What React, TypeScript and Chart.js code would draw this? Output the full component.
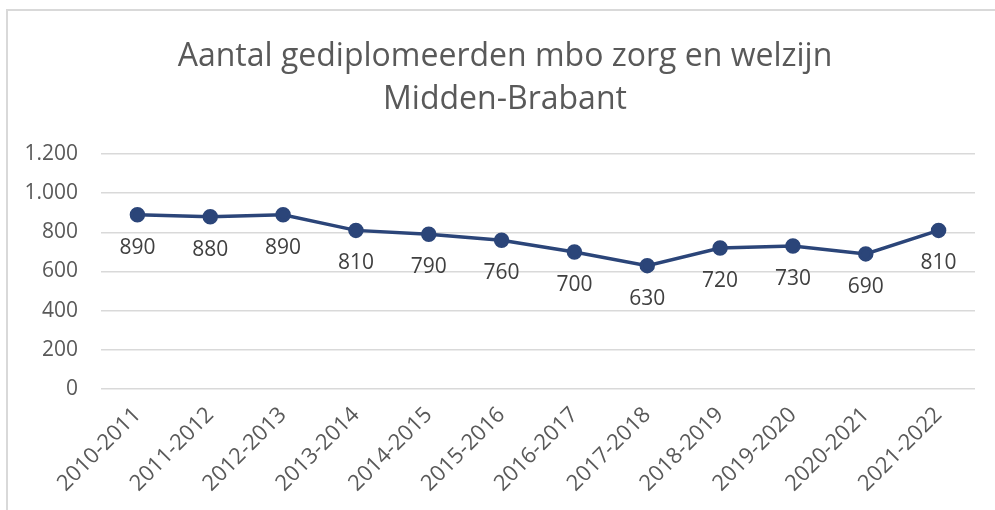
import React, { useEffect, useRef } from "react";
import { Chart, registerables } from "chart.js";

Chart.register(...registerables);

const categories = [
  "2010-2011", "2011-2012", "2012-2013", "2013-2014", "2014-2015", "2015-2016",
  "2016-2017", "2017-2018", "2018-2019", "2019-2020", "2020-2021", "2021-2022",
];
const values = [890, 880, 890, 810, 790, 760, 700, 630, 720, 730, 690, 810];
const titleLines = ["Aantal gediplomeerden mbo zorg en welzijn", "Midden-Brabant"];
const FONT = "'Open Sans', 'Noto Sans', sans-serif";

const fmt = (v: number) => v.toLocaleString("nl-NL");

const labelPlugin = {
  id: "pointLabels",
  afterDatasetsDraw(chart: any) {
    const ctx = chart.ctx;
    const meta = chart.getDatasetMeta(0);
    ctx.save();
    ctx.font = `21px ${FONT}`;
    ctx.fillStyle = "#404040";
    ctx.textAlign = "center";
    ctx.textBaseline = "middle";
    meta.data.forEach((pt: any, i: number) => {
      ctx.fillText(fmt(values[i]), pt.x, pt.y + 33);
    });
    ctx.restore();
  },
};

const titlePlugin = {
  id: "centeredTitle",
  afterDraw(chart: any) {
    const ctx = chart.ctx;
    ctx.save();
    ctx.font = `32px ${FONT}`;
    ctx.fillStyle = "#595959";
    ctx.textAlign = "center";
    ctx.textBaseline = "middle";
    titleLines.forEach((t, i) => ctx.fillText(t, 505, 57 + i * 43));
    ctx.restore();
  },
};

export default function App() {
  const ref = useRef<HTMLCanvasElement>(null);
  useEffect(() => {
    if (!ref.current) return;
    const chart = new Chart(ref.current, {
      type: "line",
      data: {
        labels: categories,
        datasets: [
          {
            data: values,
            borderColor: "#2b4579",
            backgroundColor: "#2b4579",
            borderWidth: 3.5,
            pointRadius: 6,
            pointBackgroundColor: "#2b4579",
            pointBorderColor: "#2b4579",
            tension: 0,
          },
        ],
      },
      options: {
        responsive: false,
        animation: false,
        layout: { padding: { left: 0, right: 20, top: 154, bottom: 0 } },
        plugins: {
          legend: { display: false },
          tooltip: { enabled: false },
          title: { display: false },
        },
        scales: {
          x: {
            offset: true,
            grid: { display: false },
            border: { display: false },
            ticks: {
              color: "#595959",
              font: { family: FONT, size: 22 },
              minRotation: 45,
              maxRotation: 45,
              autoSkip: false,
              padding: 5,
            },
            afterFit: (s: any) => { s.height = 121; },
          },
          y: {
            min: 0,
            max: 1200,
            grid: { color: "#d9d9d9", lineWidth: 1.5, drawTicks: false },
            border: { display: false },
            ticks: {
              stepSize: 200,
              color: "#595959",
              font: { family: FONT, size: 21 },
              padding: 23,
              callback: (v: any) => fmt(Number(v)),
            },
            afterFit: (s: any) => { s.width = 101; },
          },
        },
      },
      plugins: [labelPlugin, titlePlugin],
    });
    return () => chart.destroy();
  }, []);

  return (
    <div style={{ position: "fixed", left: 0, top: 0, width: 995, height: 510, background: "#fff", overflow: "hidden" }}>
      <div style={{ position: "absolute", left: 6, top: 9, width: 2000, height: 1000, borderTop: "2px solid #d9d9d9", borderLeft: "2px solid #d9d9d9" }} />
      <canvas ref={ref} width={995} height={510} style={{ position: "absolute", left: 0, top: 0 }} />
    </div>
  );
}
